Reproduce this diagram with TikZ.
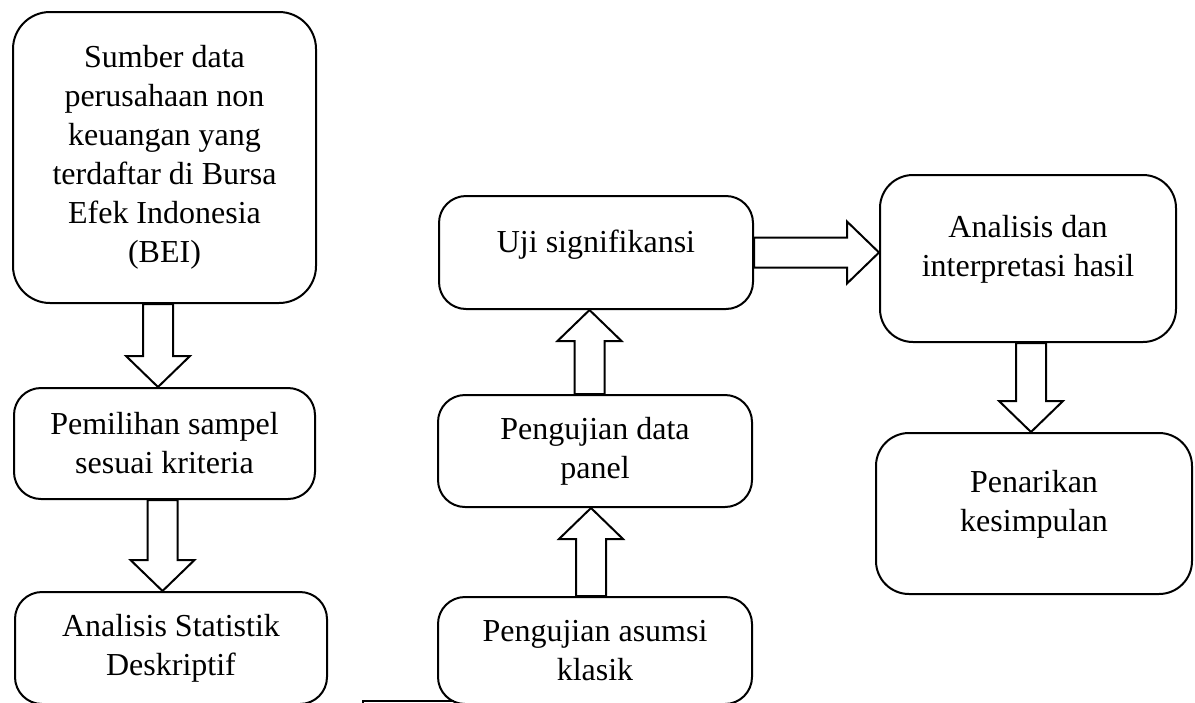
\documentclass[tikz,border=0pt]{standalone}
\usepackage{fontspec}
\setmainfont{Liberation Serif}
\usepackage{tikz}
\usetikzlibrary{positioning,calc}

\begin{document}
\begin{tikzpicture}[x=1pt,y=-1pt,every node/.style={font=\fontsize{32}{39}\selectfont},kotak/.style={draw,line width=2pt,rounded corners=27pt,align=center,inner sep=0pt,minimum width=#1},naik/.style={text height=#1,text depth=4pt},panah/.style={draw,line width=2pt,fill=white,line join=miter}]
\useasboundingbox (0,0) rectangle (1195,702);
% kolom kiri
\node[kotak=303pt,minimum height=291pt,rounded corners=37pt] (sumber) at (164.5,157.5) {Sumber data\\perusahaan non\\keuangan yang\\terdaftar di Bursa\\Efek Indonesia\\(BEI)};
\node[kotak=301pt,minimum height=111pt,below=83pt of sumber] (pemilihan) {Pemilihan sampel\\sesuai kriteria};
\node[kotak=312pt,minimum height=112pt,below=91pt of pemilihan,xshift=6.5pt] (statistik) {Analisis Statistik\\Deskriptif};
% kolom tengah
\node[kotak=314pt,minimum height=113pt,naik=4pt] (uji) at (596,252.5) {Uji signifikansi};
\node[kotak=314pt,minimum height=112pt,below=84pt of uji,xshift=-1pt] (panel) {Pengujian data\\panel};
\node[kotak=314pt,minimum height=107pt,below=88pt of panel] (asumsi) {Pengujian asumsi\\klasik};
% kolom kanan
\node[kotak=296pt,minimum height=167pt,rounded corners=33pt,naik=39pt,right=125pt of uji,yshift=-6pt] (analisis) {Analisis dan\\interpretasi hasil};
\node[kotak=316pt,minimum height=161pt,rounded corners=33pt,naik=39pt,below=89pt of analisis,xshift=6pt] (penarikan) {Penarikan\\kesimpulan};
% panah blok
\foreach \a/\b/\dx in {sumber/pemilihan/-6.5,pemilihan/statistik/-2,analisis/penarikan/3}
  \draw[panah] let \p1=([xshift=\dx pt]\a.south),\p2=(\b.north) in (\x1-15pt,\y1) -- (\x1-15pt,\y2+31pt) -- (\x1-32pt,\y2+31pt) -- (\x1,\y2) -- (\x1+32pt,\y2+31pt) -- (\x1+15pt,\y2+31pt) -- (\x1+15pt,\y1) -- cycle;
\foreach \a/\b/\dx in {panel/uji/-5.5,asumsi/panel/-4}
  \draw[panah] let \p1=([xshift=\dx pt]\a.north),\p2=(\b.south) in (\x1-15pt,\y1) -- (\x1-15pt,\y2-31pt) -- (\x1-32pt,\y2-31pt) -- (\x1,\y2) -- (\x1+32pt,\y2-31pt) -- (\x1+15pt,\y2-31pt) -- (\x1+15pt,\y1) -- cycle;
\draw[panah] let \p1=(uji.east),\p2=(analisis.west) in (\x1,\y1+15pt) -- (\x2-32pt,\y1+15pt) -- (\x2-32pt,\y1+31pt) -- (\x2,\y1) -- (\x2-32pt,\y1-31pt) -- (\x2-32pt,\y1-15pt) -- (\x1,\y1-15pt) -- cycle;
% garis bawah
\coordinate (ujung) at (363,706);
\draw[line width=2pt] (ujung) |- ([xshift=17pt,yshift=4pt]asumsi.south west);
\end{tikzpicture}
\end{document}
